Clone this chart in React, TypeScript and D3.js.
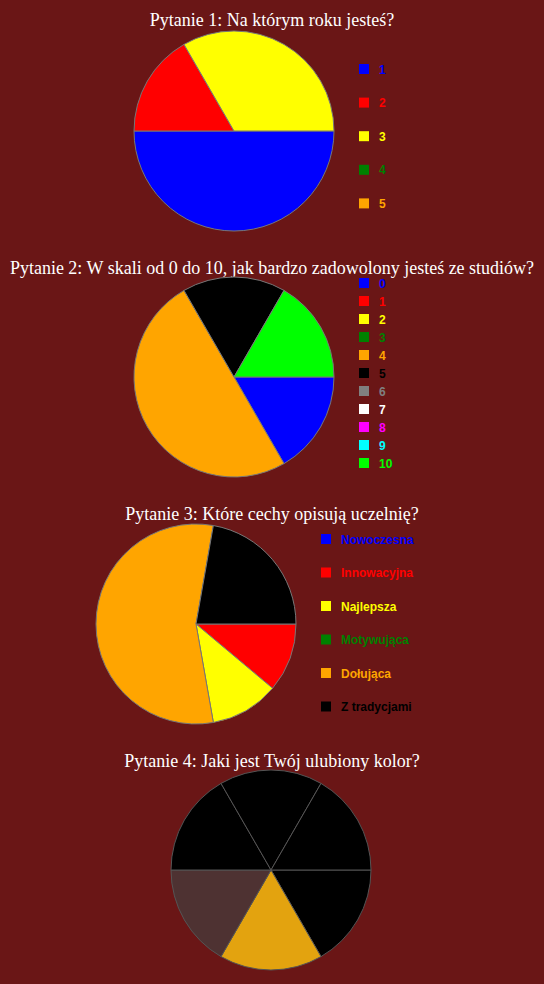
import React from "react";
import * as d3 from "d3";

const BG = "#6a1616";

const q1Title = "Pytanie 1: Na którym roku jesteś?";
const q1Labels = ["1", "2", "3", "4", "5"];
const q1Values = [3, 1, 2, 0, 0];
const q1Colors = ["#0000ff", "#ff0000", "#ffff00", "#008000", "#ffa500"];

const q2Title = "Pytanie 2: W skali od 0 do 10, jak bardzo zadowolony jesteś ze studiów?";
const q2Labels = ["0", "1", "2", "3", "4", "5", "6", "7", "8", "9", "10"];
const q2Values = [1, 0, 0, 0, 3, 1, 0, 0, 0, 0, 1];
const q2Colors = ["#0000ff", "#ff0000", "#ffff00", "#008000", "#ffa500", "#000000", "#808080", "#ffffff", "#ff00ff", "#00ffff", "#00ff00"];

const q3Title = "Pytanie 3: Które cechy opisują uczelnię?";
const q3Labels = ["Nowoczesna", "Innowacyjna", "Najlepsza", "Motywująca", "Dołująca", "Z tradycjami"];
const q3Values = [0, 1, 1, 0, 5, 2];
const q3Colors = ["#0000ff", "#ff0000", "#ffff00", "#008000", "#ffa500", "#000000"];

const q4Title = "Pytanie 4: Jaki jest Twój ulubiony kolor?";
const q4Labels = ["Czarny", "Złoty", "Brązowy", "Czarny ", "Czarny  ", "Czarny   "];
const q4Values = [1, 1, 1, 1, 1, 1];
const q4Colors = ["#000000", "#e3a30f", "#4e3232", "#000000", "#000000", "#000000"];

type PieProps = {
  title: string;
  titleY: number;
  cx: number;
  cy: number;
  labels: string[];
  values: number[];
  colors: string[];
  legendX?: number;
  legendY?: number;
  legendStep?: number;
  stroke: string;
};

function Pie({ title, titleY, cx, cy, labels, values, colors, legendX, legendY, legendStep, stroke }: PieProps) {
  const r = 100;
  const pie = d3
    .pie<number>()
    .sort(null)
    .value((d) => d)
    .startAngle(Math.PI / 2)
    .endAngle(Math.PI / 2 + Math.PI * 2);
  const arcs = pie(values);
  const arc = d3.arc<d3.PieArcDatum<number>>().innerRadius(0).outerRadius(r);
  return (
    <g>
      <text
        x={272}
        y={titleY}
        textAnchor="middle"
        fontFamily="'Liberation Serif', 'Times New Roman', serif"
        fontSize={18}
        fill="#ffffff"
      >
        {title}
      </text>
      <g transform={`translate(${cx},${cy})`}>
        {arcs.map((a, i) =>
          a.value > 0 ? (
            <path key={i} d={arc(a) || ""} fill={colors[i]} stroke={stroke} strokeWidth={1} />
          ) : null
        )}
      </g>
      {legendX !== undefined &&
        labels.map((l, i) => {
          const y = (legendY as number) + i * (legendStep as number);
          return (
            <g key={i}>
              <rect x={legendX} y={y - 5} width={10} height={10} fill={colors[i]} />
              <text
                x={(legendX as number) + 20}
                y={y + 4.5}
                fontFamily="'Liberation Sans', Arial, sans-serif"
                fontWeight="bold"
                fontSize={12}
                fill={colors[i]}
              >
                {l}
              </text>
            </g>
          );
        })}
    </g>
  );
}

export default function App() {
  React.useEffect(() => {
    document.body.style.margin = "0";
    document.body.style.background = BG;
  }, []);
  return (
    <svg width={544} height={984} style={{ display: "block" }}>
      <rect x={0} y={0} width={544} height={984} fill={BG} />
      <Pie title={q1Title} titleY={26} cx={234} cy={131} labels={q1Labels} values={q1Values} colors={q1Colors}
        legendX={359} legendY={69} legendStep={33.6} stroke="#777777" />
      <Pie title={q2Title} titleY={274} cx={234} cy={377} labels={q2Labels} values={q2Values} colors={q2Colors}
        legendX={359} legendY={283} legendStep={18} stroke="#777777" />
      <Pie title={q3Title} titleY={520} cx={196} cy={624} labels={q3Labels} values={q3Values} colors={q3Colors}
        legendX={321} legendY={539} legendStep={33.5} stroke="#777777" />
      <Pie title={q4Title} titleY={767} cx={271} cy={870} labels={q4Labels} values={q4Values} colors={q4Colors}
        stroke="#555555" />
    </svg>
  );
}
